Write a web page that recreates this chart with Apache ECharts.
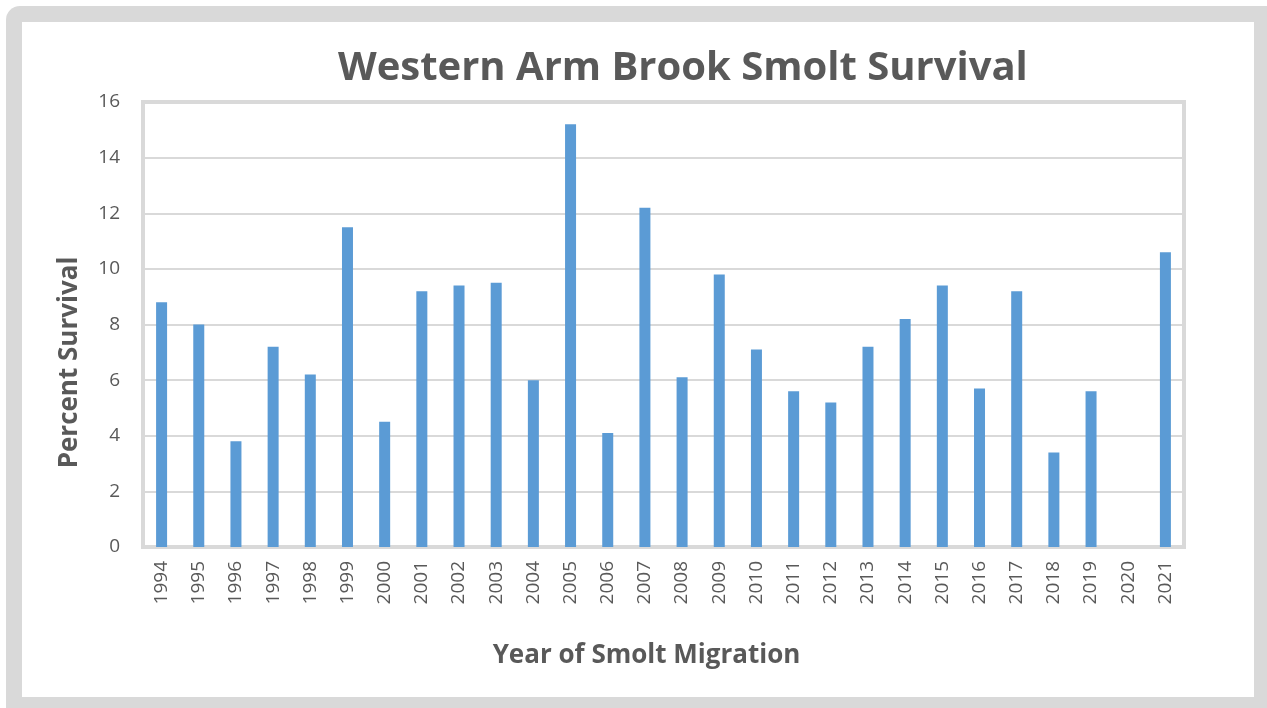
<!DOCTYPE html>
<html>
<head>
<meta charset="utf-8">
<script src="https://cdn.jsdelivr.net/npm/echarts@6/dist/echarts.min.js"></script>
<style>
  html, body { margin: 0; padding: 0; background: #ffffff; }
  #chart { width: 1267px; height: 708px; }
</style>
</head>
<body>
<div id="chart"></div>
<script>
// Smolt migration years and percent survival (no estimate for 2020)
const years = ['1994','1995','1996','1997','1998','1999','2000','2001','2002','2003',
  '2004','2005','2006','2007','2008','2009','2010','2011','2012','2013',
  '2014','2015','2016','2017','2018','2019','2020','2021'];
const survival = [8.8, 8.0, 3.8, 7.2, 6.2, 11.5, 4.5, 9.2, 9.4, 9.5,
  6.0, 15.2, 4.1, 12.2, 6.1, 9.8, 7.1, 5.6, 5.2, 7.2,
  8.2, 9.4, 5.7, 9.2, 3.4, 5.6, null, 10.6];

const titleText = 'Western Arm Brook Smolt Survival';
const xName = 'Year of Smolt Migration';
const yName = 'Percent Survival';

const textGray = '#595959';
const lineGray = '#d9d9d9';
const font = 'Open Sans';

const chart = echarts.init(document.getElementById('chart'));
chart.setOption({
  backgroundColor: '#ffffff',
  animation: false,
  title: {
    text: titleText,
    left: 333,
    top: 44,
    textStyle: { fontFamily: font, fontSize: 40, fontWeight: 'bold', color: textGray }
  },
  // gray frame around the white chart panel
  graphic: [{
    type: 'rect',
    silent: true,
    z: -2,
    shape: { x: 6, y: 6, width: 1320, height: 760, r: 14 },
    style: { fill: lineGray }
  }, {
    type: 'rect',
    silent: true,
    z: -1,
    shape: { x: 22, y: 22, width: 1232, height: 675 },
    style: { fill: '#ffffff' }
  }],
  grid: {
    left: 143, right: 83, top: 102, bottom: 161,
    show: true, borderColor: lineGray, borderWidth: 4, backgroundColor: 'transparent'
  },
  xAxis: {
    type: 'category',
    data: years,
    name: xName,
    nameLocation: 'middle',
    nameGap: 96,
    nameTextStyle: {
      fontFamily: font, fontSize: 26, fontWeight: 'bold', color: textGray,
      padding: [0, 34, 0, 0]
    },
    axisLine: { show: false },
    axisTick: { show: false },
    axisLabel: { rotate: 90, fontFamily: font, fontSize: 19, color: textGray, margin: 14, interval: 0 }
  },
  yAxis: {
    type: 'value',
    min: 0, max: 16, interval: 2,
    name: yName,
    nameLocation: 'middle',
    nameGap: 60,
    nameTextStyle: {
      fontFamily: font, fontSize: 26, fontWeight: 'bold', color: textGray,
      padding: [0, 76, 0, 0]
    },
    axisLine: { show: false },
    axisTick: { show: false },
    axisLabel: { fontFamily: font, fontSize: 19, color: textGray, margin: 23 },
    splitLine: { lineStyle: { color: lineGray, width: 2 } }
  },
  series: [{
    type: 'bar',
    data: survival,
    barWidth: 11,
    itemStyle: { color: '#5b9bd5' }
  }]
});
</script>
</body>
</html>
